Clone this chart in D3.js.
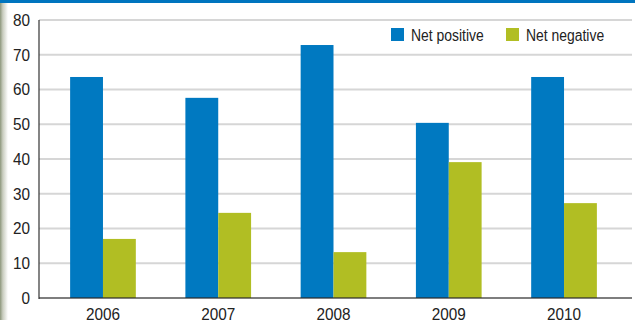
<!DOCTYPE html>
<html>
<head>
<meta charset="utf-8">
<script src="https://cdn.jsdelivr.net/npm/d3@7"></script>
<style>
  html, body { margin: 0; padding: 0; background: #fff; }
  svg { display: block; font-family: "Liberation Sans Narrow", "Arial Narrow", "Liberation Sans", sans-serif; }
</style>
</head>
<body>
<div id="chart"></div>
<script>
// chart data
const years = ['2006', '2007', '2008', '2009', '2010'];
const seriesNames = ['Net positive', 'Net negative'];
const netPositive = [63.6, 57.6, 72.8, 50.4, 63.6];
const netNegative = [17.0, 24.5, 13.2, 39.1, 27.3];
const yTicks = [0, 10, 20, 30, 40, 50, 60, 70, 80];

const colors = { 'Net positive': '#0079c1', 'Net negative': '#b1be23' };

const width = 635, height = 320;
const margin = { top: 20, right: 3, bottom: 22, left: 39 };

const svg = d3.select('#chart')
    .append('svg')
    .attr('width', width)
    .attr('height', height);

// photo edge on the left + blue top rule
const grad = svg.append('defs').append('linearGradient')
    .attr('id', 'edge').attr('x1', 0).attr('x2', 1);
grad.append('stop').attr('offset', 0).attr('stop-color', '#8d977c');
grad.append('stop').attr('offset', 0.35).attr('stop-color', '#c9cdbf');
grad.append('stop').attr('offset', 1).attr('stop-color', '#ffffff');
svg.append('rect').attr('x', 0).attr('y', 0).attr('width', 8).attr('height', height).attr('fill', 'url(#edge)');
svg.append('rect').attr('x', 0).attr('y', 0).attr('width', width).attr('height', 3).attr('fill', '#0075bf');

const rows = years.map((y, i) => ({ year: y, 'Net positive': netPositive[i], 'Net negative': netNegative[i] }));

const y = d3.scaleLinear()
    .domain([0, 80])
    .range([height - margin.bottom, margin.top]);

const x0 = d3.scaleBand()
    .domain(years)
    .range([margin.left, 628])
    .paddingInner(0.43)
    .paddingOuter(0.27);

const x1 = d3.scaleBand()
    .domain(seriesNames)
    .range([0, x0.bandwidth()]);

// squeeze text a bit, the original uses a condensed face
function condense(sel, k) {
    sel.each(function() {
        const len = this.getComputedTextLength();
        d3.select(this).attr('textLength', len * k).attr('lengthAdjust', 'spacingAndGlyphs');
    });
}

// grid lines
svg.append('g')
    .selectAll('line')
    .data(yTicks.filter(t => t > 0))
    .enter()
    .append('line')
    .attr('x1', margin.left)
    .attr('x2', 632)
    .attr('y1', d => y(d))
    .attr('y2', d => y(d))
    .attr('stroke', '#d6d6d6')
    .attr('stroke-width', 2);

// y labels
const yAxis = svg.append('g')
    .attr('transform', `translate(${margin.left},0)`)
    .call(d3.axisLeft(y).tickValues(yTicks).tickSize(0).tickPadding(9));
yAxis.select('.domain').remove();
yAxis.selectAll('text')
    .attr('font-size', 17)
    .attr('font-family', null)
    .attr('fill', '#222')
    .call(condense, 0.9);

// bars
svg.append('g')
    .selectAll('g')
    .data(rows)
    .enter()
    .append('g')
    .attr('transform', d => `translate(${x0(d.year)},0)`)
    .selectAll('rect')
    .data(d => seriesNames.map(k => ({ key: k, value: d[k] })))
    .enter()
    .append('rect')
    .attr('x', d => x1(d.key))
    .attr('y', d => y(d.value))
    .attr('width', x1.bandwidth())
    .attr('height', d => y(0) - y(d.value))
    .attr('fill', d => colors[d.key]);

// axes lines
svg.append('line')
    .attr('x1', margin.left).attr('x2', margin.left)
    .attr('y1', y(80)).attr('y2', y(0) + 1)
    .attr('stroke', '#333').attr('stroke-width', 1.2);
svg.append('line')
    .attr('x1', margin.left).attr('x2', 632)
    .attr('y1', y(0)).attr('y2', y(0))
    .attr('stroke', 'rgba(40,40,40,0.6)').attr('stroke-width', 2);

// x labels
const xAxis = svg.append('g')
    .attr('transform', `translate(0,${y(0)})`)
    .call(d3.axisBottom(x0).tickSize(0).tickPadding(10));
xAxis.select('.domain').remove();
xAxis.selectAll('text')
    .attr('font-size', 17)
    .attr('font-family', null)
    .attr('fill', '#222')
    .call(condense, 0.9);

// legend
const legend = svg.append('g');
const legendX = [391, 506];
seriesNames.forEach((name, i) => {
    const g = legend.append('g').attr('transform', `translate(${legendX[i]},28)`);
    g.append('rect').attr('width', 13).attr('height', 13).attr('fill', colors[name]);
    g.append('text')
        .attr('x', 20)
        .attr('y', 12.5)
        .attr('font-size', 16)
        .attr('fill', '#222')
        .text(name)
        .call(condense, 0.87);
});
</script>
</body>
</html>
